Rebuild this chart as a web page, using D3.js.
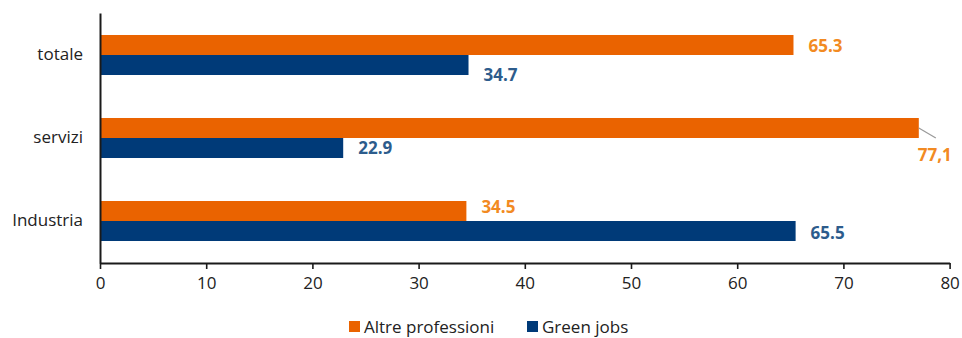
<!DOCTYPE html>
<html>
<head>
<meta charset="utf-8">
<script src="https://cdn.jsdelivr.net/npm/d3@7/dist/d3.min.js"></script>
<style>
  html, body { margin: 0; padding: 0; background: #fff; }
  svg { display: block; }
  text { font-family: "Open Sans", "Noto Sans", sans-serif; }
</style>
</head>
<body>
<div id="chart"></div>
<script>
// Settori, dall'alto verso il basso
const categories = ["totale", "servizi", "Industria"];
// Serie
const seriesNames = ["Altre professioni", "Green jobs"];
const altreProfessioni = [65.3, 77.1, 34.5];
const greenJobs = [34.7, 22.9, 65.5];
// Etichette dei valori (come riportate nel grafico)
const altreLabels = ["65.3", "77,1", "34.5"];
const greenLabels = ["34.7", "22.9", "65.5"];
// Asse x
const xTicks = [0, 10, 20, 30, 40, 50, 60, 70, 80];

const W = 962, H = 338;
const margin = { left: 100, right: 12, top: 13, bottom: 75 };
const colors = { bar: ["#EA6300", "#003A78"], label: ["#F28A22", "#2D5C8C"] };
const fontFamily = "'Open Sans', 'Noto Sans', sans-serif";

const svg = d3.select("#chart").append("svg").attr("width", W).attr("height", H);

const x = d3.scaleLinear().domain([0, 80]).range([margin.left, 949.6]);
const y = d3.scaleBand().domain(categories)
  .range([margin.top, H - margin.bottom])
  .paddingInner(0.518).paddingOuter(0.265);
const ySub = d3.scaleBand().domain(seriesNames).range([0, y.bandwidth()]);

const rows = categories.map((c, i) => ({
  cat: c,
  values: [
    { s: seriesNames[0], v: altreProfessioni[i], label: altreLabels[i], k: 0 },
    { s: seriesNames[1], v: greenJobs[i], label: greenLabels[i], k: 1 }
  ]
}));

// Spostamenti verticali delle etichette dei valori
const labelNudge = {
  "totale": [0, 10], "servizi": [0, 0], "Industria": [-5, 2]
};

const groups = svg.append("g").selectAll("g").data(rows).join("g")
  .attr("transform", d => `translate(0,${y(d.cat)})`);

groups.selectAll("rect").data(d => d.values).join("rect")
  .attr("x", x(0))
  .attr("y", d => ySub(d.s))
  .attr("width", d => x(d.v) - x(0))
  .attr("height", ySub.bandwidth())
  .attr("fill", d => colors.bar[d.k]);

groups.each(function(row) {
  const g = d3.select(this);
  row.values.forEach(d => {
    const cy = ySub(d.s) + ySub.bandwidth() / 2 + labelNudge[row.cat][d.k];
    if (row.cat === "servizi" && d.k === 0) {
      // etichetta spostata sotto la barra con linea di richiamo
      const x0 = x(d.v), y0 = ySub(d.s) + ySub.bandwidth() / 2;
      g.append("line")
        .attr("x1", x0).attr("y1", y0)
        .attr("x2", x0 + 17).attr("y2", y0 + 10)
        .attr("stroke", "#999").attr("stroke-width", 1.2);
      g.append("text")
        .attr("x", x0 + 16).attr("y", y0 + 27)
        .attr("text-anchor", "middle").attr("dominant-baseline", "central")
        .attr("font-size", 17).attr("font-weight", 700)
        .attr("fill", colors.label[d.k]).text(d.label);
    } else {
      g.append("text")
        .attr("x", x(d.v) + 15).attr("y", cy)
        .attr("dominant-baseline", "central")
        .attr("font-size", 17).attr("font-weight", 700)
        .attr("fill", colors.label[d.k]).text(d.label);
    }
  });
});

// Asse x
const xAxis = svg.append("g")
  .attr("transform", `translate(0,${H - margin.bottom})`)
  .call(d3.axisBottom(x).tickValues(xTicks).tickSize(6).tickSizeOuter(0).tickPadding(8));
xAxis.select(".domain").attr("stroke", "#1a1a1a").attr("stroke-width", 2);
xAxis.selectAll(".tick line").attr("stroke", "#1a1a1a").attr("stroke-width", 1.6);
xAxis.selectAll(".tick text").attr("font-size", 17).attr("fill", "#222")
  .style("font-family", fontFamily);

// Asse y
const yAxis = svg.append("g")
  .attr("transform", `translate(${margin.left},0)`)
  .call(d3.axisLeft(y).tickSize(0).tickPadding(17));
yAxis.select(".domain").attr("stroke", "#1a1a1a").attr("stroke-width", 2);
yAxis.selectAll(".tick text").attr("font-size", 17).attr("fill", "#222")
  .style("font-family", fontFamily);

// Legenda
const legend = svg.append("g").attr("transform", "translate(349,321)");
const legendX = [0, 178];
seriesNames.forEach((s, i) => {
  const lg = legend.append("g").attr("transform", `translate(${legendX[i]},0)`);
  lg.append("rect").attr("width", 11).attr("height", 11).attr("fill", colors.bar[i]);
  lg.append("text").attr("x", 15).attr("y", 12)
    .attr("font-size", 17).attr("fill", "#222").text(s);
});
</script>
</body>
</html>
